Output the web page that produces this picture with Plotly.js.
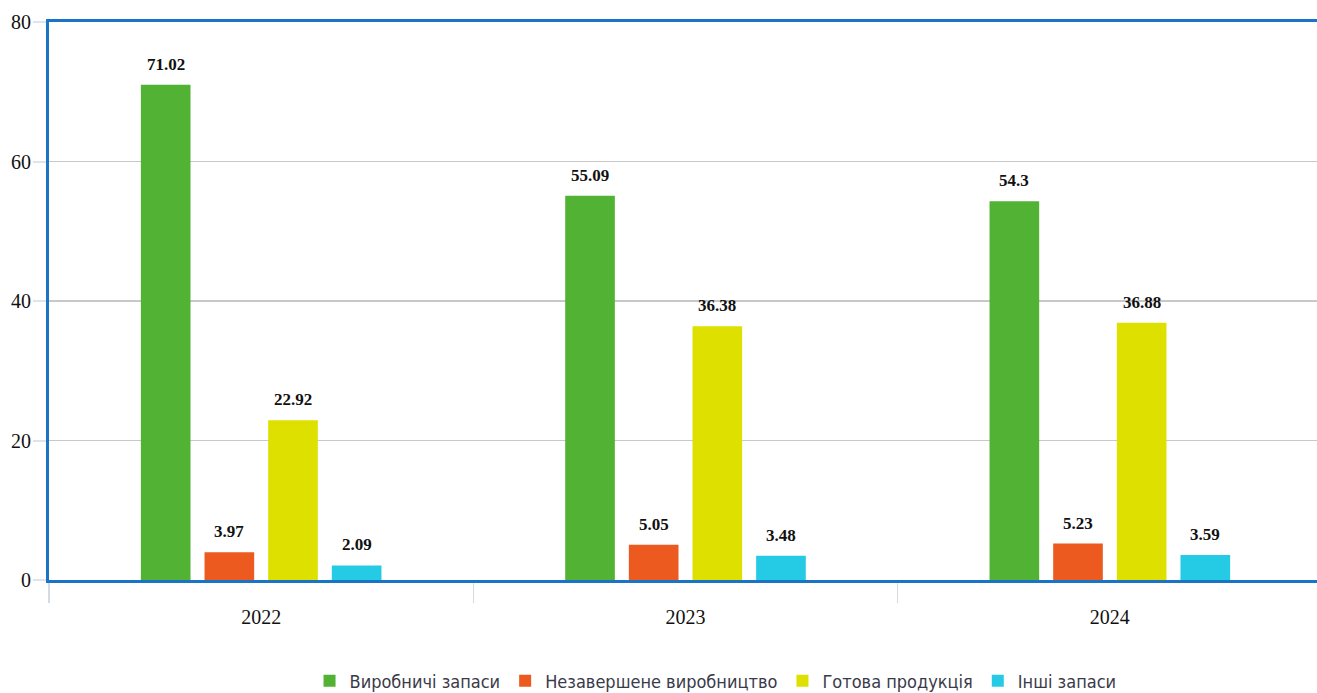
<!DOCTYPE html>
<html>
<head>
<meta charset="utf-8">
<script src="https://cdn.plot.ly/plotly-3.0.1.min.js"></script>
<style>
  html, body { margin: 0; padding: 0; overflow: hidden; background: #ffffff; }
  #chart { width: 1330px; height: 693px; }
</style>
</head>
<body>
<div id="chart"></div>
<script>
// Inventory structure by year, %
const years = ['2022', '2023', '2024'];
const seriesNames = ['Виробничі запаси', 'Незавершене виробництво', 'Готова продукція', 'Інші запаси'];
const productionStock = [71.02, 55.09, 54.3];
const workInProgress = [3.97, 5.05, 5.23];
const finishedGoods = [22.92, 36.38, 36.88];
const otherStock = [2.09, 3.48, 3.59];
const yTicks = [0, 20, 40, 60, 80];

const seriesValues = [productionStock, workInProgress, finishedGoods, otherStock];
const colors = ['#52b233', '#ec5a1f', '#dee000', '#25cbe5'];

const bargap = 0.4;
const nSeries = seriesValues.length;
const slot = (1 - bargap) / nSeries;

const traces = seriesValues.map((vals, i) => ({
  type: 'bar',
  name: seriesNames[i],
  x: years,
  y: vals,
  marker: { color: colors[i], line: { width: 0 } },
  hoverinfo: 'x+y+name'
}));

// value labels above each bar, placed at the bar's centre within its group
const annotations = [];
seriesValues.forEach((vals, i) => {
  const offset = -(1 - bargap) / 2 + slot * (i + 0.5);
  vals.forEach((v, j) => {
    annotations.push({
      x: j + offset,
      y: v,
      xref: 'x',
      yref: 'y',
      text: String(v),
      showarrow: false,
      yanchor: 'bottom',
      yshift: 9,
      font: { family: 'Liberation Serif, serif', size: 17, color: '#111111', weight: 'bold' }
    });
  });
});

const layout = {
  width: 1330,
  height: 693,
  margin: { l: 49, r: 8, t: 22, b: 113, autoexpand: false },
  paper_bgcolor: '#ffffff',
  plot_bgcolor: '#ffffff',
  barmode: 'group',
  bargap: bargap,
  bargroupgap: 0.22,
  showlegend: true,
  legend: {
    orientation: 'h',
    x: 0.5236,
    xanchor: 'center',
    y: -0.181,
    yanchor: 'middle',
    font: { family: 'Liberation Sans Narrow, DejaVu Sans Condensed, sans-serif', size: 18, color: '#3a3a4a' },
    itemwidth: 30,
    traceorder: 'normal'
  },
  xaxis: {
    type: 'category',
    tickson: 'boundaries',
    ticks: 'outside',
    ticklen: 20,
    tickwidth: 1.5,
    tickcolor: '#d5dbe3',
    showline: true,
    linecolor: '#1a74c6',
    linewidth: 3,
    mirror: true,
    showgrid: false,
    ticklabelstandoff: 17,
    tickfont: { family: 'Liberation Serif, serif', size: 20, color: '#111111' },
    fixedrange: true
  },
  yaxis: {
    range: [0, 80],
    tickvals: yTicks,
    ticks: 'outside',
    ticklen: 13,
    tickwidth: 2,
    tickcolor: '#dfe4ea',
    showline: true,
    linecolor: '#1a74c6',
    linewidth: 3,
    showgrid: true,
    gridcolor: '#c8c8c8',
    gridwidth: 1.5,
    zeroline: false,
    ticklabelstandoff: -2,
    tickfont: { family: 'Liberation Serif, serif', size: 20, color: '#111111' },
    fixedrange: true
  },
  annotations: annotations
};

Plotly.newPlot('chart', traces, layout, { displayModeBar: false, staticPlot: true });
</script>
</body>
</html>
